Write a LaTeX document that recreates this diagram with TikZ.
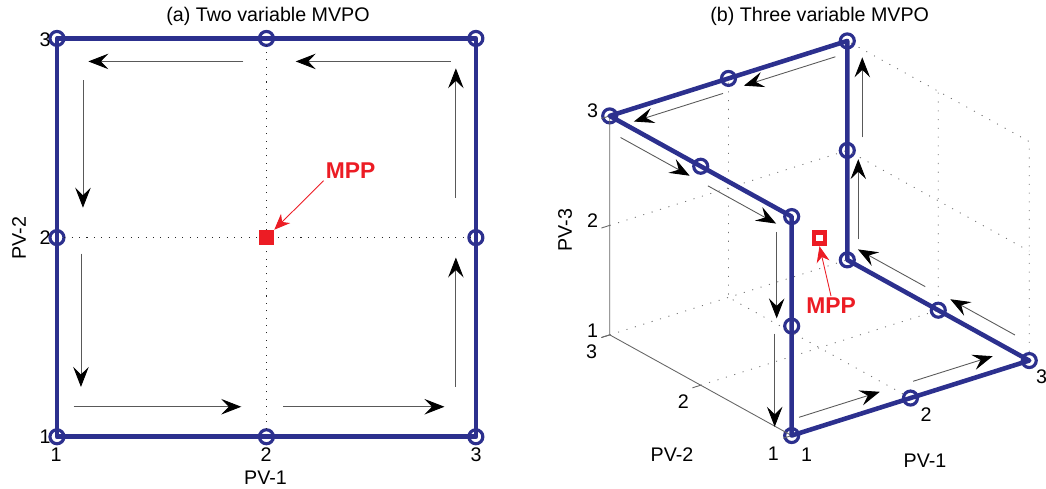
\documentclass[tikz,border=0pt]{standalone}
\usepackage{fontspec}
\setmainfont{Liberation Sans}
\usetikzlibrary{arrows.meta,calc}
\definecolor{pvblue}{RGB}{44,48,142}
\definecolor{mppred}{RGB}{236,28,36}
\tikzset{
  >={Stealth[length=4mm,width=3.1mm,inset=1.5mm,color=black]},
  pv/.style={draw=pvblue,line width=2.6pt,line join=round},
  mk/.style={circle,draw=pvblue,line width=1.8pt,minimum size=2.8mm,inner sep=0pt},
  mv/.style={->,line width=0.5pt,draw=black!65},
  gd/.style={dash pattern=on 0.6pt off 3.6pt,line width=0.6pt,black!85},
  gb/.style={dash pattern=on 0.6pt off 4.4pt,line width=0.5pt,black!55},
  ax/.style={line width=0.5pt,black!60},
  tk/.style={inner sep=0pt,font=\fontsize{11.2}{13}\selectfont},
  mpp/.style={inner sep=1pt,text=mppred,font=\fontsize{13}{15}\selectfont\bfseries},
  ra/.style={-{Stealth[length=3.2mm,width=2.6mm,inset=1mm]},draw=mppred,line width=0.5pt},
}

\begin{document}
\begin{tikzpicture}[x=0.02cm,y=-0.02cm]
\useasboundingbox (0,0) rectangle (1046,488);
% (a) two variables
\begin{scope}[shift={(-152.5,635.9)},x={(4.19cm,0cm)},y={(0cm,3.984cm)}]
\foreach \i/\j in {1/1,2/1,3/1,3/2,3/3,2/3,1/3,1/2}
  \node[mk] (a\i\j) at (\i,\j) {};
\draw[gd] (a21.center) -- (a23.center);
\draw[gd] (a12.center) -- (a32.center);
\draw[pv] (a11.center) -- (a31.center) -- (a33.center) -- (a13.center) -- cycle;
\node[fill=mppred,minimum size=3mm,inner sep=0pt] (sqa) at (2,2) {};
\end{scope}
\foreach \u/\v/\s/\e/\dx/\dy in {a11/a21/.08/.88/0/-30, a21/a31/.08/.85/0/-30,
    a31/a32/.25/.9/-20/0, a32/a33/.2/.85/-20/0, a33/a23/.12/.86/0/23,
    a23/a13/.11/.85/0/23, a13/a12/.21/.85/26/0, a12/a11/.08/.75/24/0}
  \draw[mv] ($(\u.center)!\s!(\v.center)+(\dx,\dy)$) -- ($(\u.center)!\e!(\v.center)+(\dx,\dy)$);
\node[tk] (ta) at (268,16.5) {(a) Two variable MVPO};
\foreach \n/\x in {1/56,2/266,3/476} \node[tk] (xa\n) at (\x,455) {\n};
\foreach \n/\y in {1/437,2/238,3/39.3} \node[tk] (ya\n) at (45,\y) {\n};
\node[tk] (la1) at (265.5,477.5) {PV-1};
\node[tk,rotate=90] (la2) at (19,238) {PV-2};
\node[mpp] (mppa) at (350.5,170.7) {MPP};
\draw[ra] (mppa.south west) -- (sqa.north east);

% (b) three variables
\begin{scope}[shift={(763.9,632.85)},x={(2.376cm,0.75cm)},y={(-1.82cm,1.007cm)},z={(0cm,2.19cm)}]
\foreach \i/\j/\k in {1/1/1,2/1/1,3/1/1,3/2/1,3/3/1,3/3/2,3/3/3,2/3/3,1/3/3,1/2/3,1/1/3,1/1/2}
  \node[mk] (b\i\j\k) at (\i,\j,\k) {};
\coordinate (c131) at (1,3,1); \coordinate (c121) at (1,2,1); \coordinate (c231) at (2,3,1);
\coordinate (c132) at (1,3,2); \coordinate (c313) at (3,1,3); \coordinate (c323) at (3,2,3);
\coordinate (c312) at (3,1,2);
\draw[gb] (c131) -- (b331.center);
\draw[gb] (b211.center) -- (c231) -- (b233.center);
\draw[gb] (c121) -- (b321.center) -- (c323);
\draw[gb] (c132) -- (b332.center) -- (c312);
\draw[gb] (b311.center) -- (c313) -- (b333.center);
\draw[ax] (b111.center) -- (c131) -- (b133.center);
\foreach \k in {1,2,3} \draw[ax] (1,3,\k) -- (0.93,3,\k);
\foreach \j in {1,2,3} \draw[ax] (1,\j,1) -- (0.93,\j,1);
\draw[pv] (b111.center) -- (b211.center) -- (b311.center) -- (b321.center) -- (b331.center)
  -- (b332.center) -- (b333.center) -- (b233.center) -- (b133.center) -- (b123.center)
  -- (b113.center) -- (b112.center) -- cycle;
\node[draw=mppred,fill=white,line width=2.8pt,minimum size=2.2mm,inner sep=0pt] (sqb) at (2,2,2) {};
\end{scope}
\foreach \u/\v/\s/\e/\dx/\dy in {b333/b233/.13/.9/3.5/11, b233/b133/.08/.83/4/12,
    b133/b123/.19/.95/-6.5/12, b123/b113/.15/.9/-6.5/12, b113/b112/.14/.93/-15/0,
    b112/b111/.07/.92/-17/0, b111/b211/.1/.78/-4.5/-14.5, b211/b311/.06/.73/-4.5/-14.5,
    b311/b321/.24/.95/7.5/-13.5, b321/b331/.22/.96/7/-12.5, b331/b332/.19/.92/11/0,
    b332/b333/.12/.85/15/0}
  \draw[mv] ($(\u.center)!\s!(\v.center)+(\dx,\dy)$) -- ($(\u.center)!\e!(\v.center)+(\dx,\dy)$);
\node[tk] (tb) at (819.7,16) {(b) Three variable MVPO};
\foreach \n/\y in {1/331,2/220.7,3/111} \node[tk] (zb\n) at (592.7,\y) {\n};
\node[tk] (yb3) at (591.7,351.7) {3};
\node[tk] (yb2) at (683.3,401.7) {2};
\node[tk] (yb1) at (773.3,453.3) {1};
\node[tk] (xb1) at (806.7,455) {1};
\node[tk] (xb2) at (926,415) {2};
\node[tk] (xb3) at (1041.5,376.7) {3};
\node[tk] (lb2) at (672,455) {PV-2};
\node[tk] (lb1) at (925,461) {PV-1};
\node[tk,rotate=90] (lb3) at (565,230) {PV-3};
\node[mpp] (mppb) at (831,306) {MPP};
\draw[ra] (mppb.north) -- (sqb.south);
\end{tikzpicture}
\end{document}
